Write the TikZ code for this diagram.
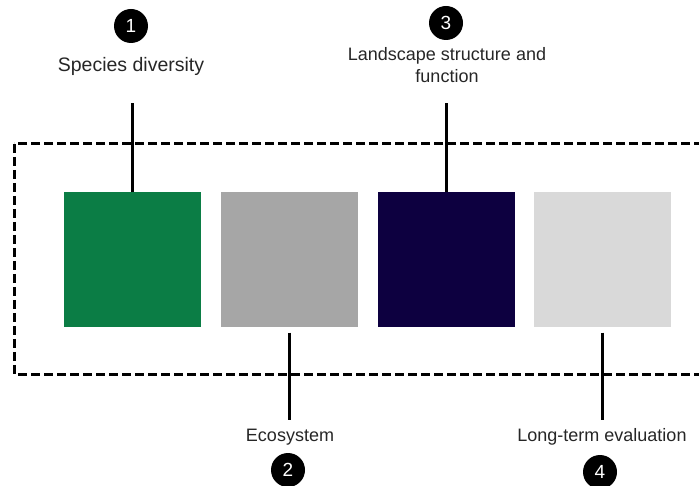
\documentclass[tikz,border=0pt]{standalone}
\usepackage{fontspec}
\setmainfont{Liberation Sans}
\usetikzlibrary{positioning}

\definecolor{darkgreen}{HTML}{0B7D45}
\definecolor{midgray}{HTML}{A6A6A6}
\definecolor{darknavy}{HTML}{0D0040}
\definecolor{lightgray}{HTML}{D9D9D9}

\begin{document}
\begin{tikzpicture}[x=1pt, y=-1pt,
    every node/.style={font=\fontsize{18}{22}\selectfont, text=black!85},
    block/.style={minimum width=137pt, minimum height=135pt, inner sep=0pt},
    badge/.style={circle, fill=black, minimum size=34pt, inner sep=0pt, text=white, font=\fontsize{19}{22}\selectfont},
    link/.style={line width=2.5pt, black}]
    \useasboundingbox (0,0) rectangle (699,486);
    \clip (0,0) rectangle (699,486);

    % Frame round the four blocks
    \draw[line width=3pt, dash pattern=on 9pt off 4pt] (14,144) rectangle (720,374);

    % Blocks
    \node[block, fill=darkgreen] (species) at (132.5,260) {};
    \node[block, fill=midgray] (ecosys) at (289.5,260) {};
    \node[block, fill=darknavy] (landsc) at (446.5,260) {};
    \node[block, fill=lightgray] (longterm) at (602.5,260) {};

    % Upper labels
    \coordinate (speciesTop) at (132.5,103);
    \coordinate (landscTop) at (446.5,103);
    \draw[link] (species.north) -- (speciesTop);
    \draw[link] (landsc.north) -- (landscTop);
    \node[font=\fontsize{19.5}{22}\selectfont] (speciesLbl) at (131,66) {Species diversity};
    \node[align=center] (landscLbl) at (447,65) {Landscape structure and\\function};
    \node[badge] (one) at (131,26) {1};
    \node[badge] (three) at (446,23) {3};

    % Lower labels
    \coordinate (ecosysBot) at (289.5,420);
    \coordinate (longtermBot) at (602.5,420);
    \draw[link] ([yshift=-5pt]ecosys.south) -- (ecosysBot);
    \draw[link] ([yshift=-5pt]longterm.south) -- (longtermBot);
    \node (ecosysLbl) at (290,437) {Ecosystem};
    \node (longtermLbl) at (602,437) {Long-term evaluation};
    \node[badge] (two) at (288,470) {2};
    \node[badge] (four) at (600,472) {4};
\end{tikzpicture}
\end{document}
